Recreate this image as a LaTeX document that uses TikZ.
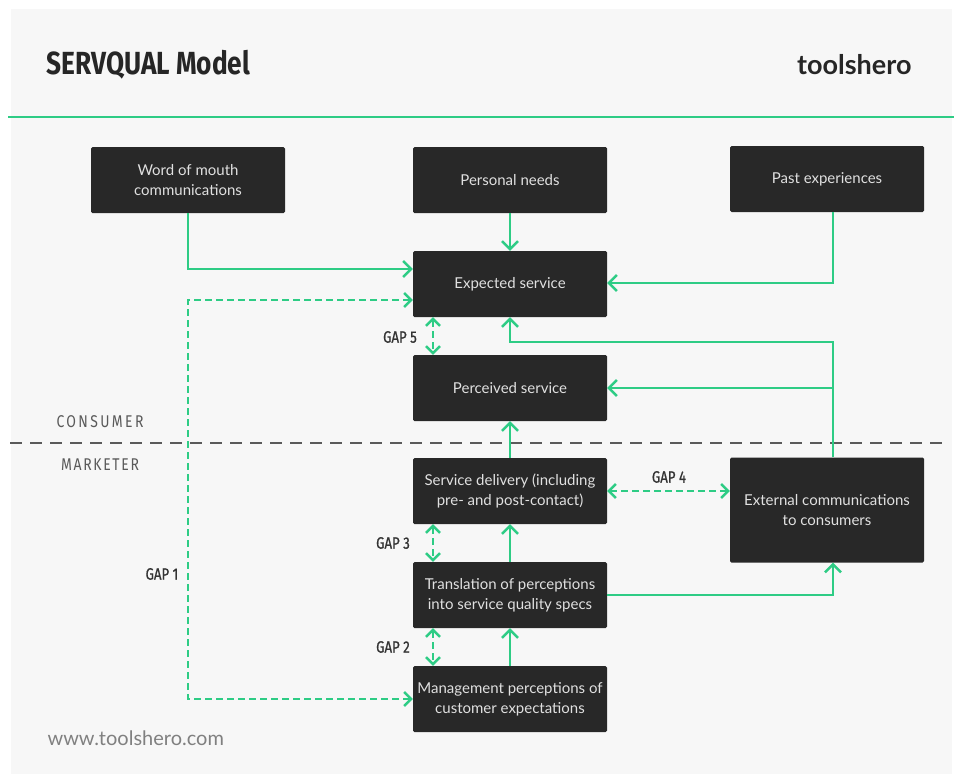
\documentclass[tikz,border=0pt]{standalone}
\usepackage{fontspec}
\setmainfont{Lato}
\newfontfamily\condfont[FakeStretch=0.82]{Fira Sans}
\newfontfamily\gapfont[FakeStretch=0.8,FakeBold=0.8]{Fira Sans}
\usetikzlibrary{calc}
\usetikzlibrary{arrows.meta}
\definecolor{boxgray}{HTML}{282828}
\definecolor{flowgreen}{HTML}{2ECC85}
\definecolor{panelgray}{HTML}{F7F7F7}
\definecolor{labelgray}{HTML}{5A5A5A}

\begin{document}
\begin{tikzpicture}[x=1pt,y=-1pt,
  box/.style={fill=boxgray, text=white!88!black, rounded corners=1.5pt, minimum width=194pt, minimum height=66pt, align=center, inner sep=0pt, font=\fontsize{15}{20}\selectfont},
  flow/.style={flowgreen, line width=2.4pt, -{Straight Barb[length=8pt,width=16pt]}},
  gap/.style={flowgreen, line width=2.4pt, dash pattern=on 7pt off 4pt, {Straight Barb[length=7pt,width=14pt]}-{Straight Barb[length=7pt,width=14pt]}},
  gaplabel/.style={text=black!80, font=\gapfont\fontsize{16.5}{16.5}\selectfont},
  sidelabel/.style={text=labelgray}]

\useasboundingbox (0,0) rectangle (954,774);
\fill[white] (0,0) rectangle (954,774);
\fill[panelgray] (11,9) rectangle (952,774);

\node[anchor=west, font=\condfont\bfseries\fontsize{32}{32}\selectfont, text=black!85] (title) at (43,65) {SERVQUAL Model};
\node[anchor=east, font=\bfseries\fontsize{27}{27}\selectfont, text=black!85] (brand) at (915,65) {toolshero};
\draw[flowgreen, line width=2.5pt] (8,117) -- (954,117);

\node[box] (mouth) at (188,180) {Word of mouth\\communications};
\node[box] (needs) at (510,180) {Personal needs};
\node[box] (past) at (827,179) {Past experiences};
\node[box] (expected) at (510,284) {Expected service};
\node[box] (perceived) at (510,388) {Perceived service};
\node[box] (delivery) at (510,491) {Service delivery (including\\pre- and post-contact)};
\node[box] (translation) at (510,595) {Translation of perceptions\\into service quality specs};
\node[box] (management) at (510,699) {Management perceptions of\\customer expectations};
\node[box, minimum height=105pt] (external) at (827,510) {External communications\\to consumers};

\coordinate (mouthdown) at (188,269);
\coordinate (pastdown) at (833,283);
\coordinate (extup) at (833,342);
\coordinate (extmid) at (833,388);
\coordinate (gapleft) at (188,300);

\draw[labelgray, line width=2pt, dash pattern=on 12pt off 8pt] (10,443) -- (944,443);
\node[sidelabel, font=\condfont\fontsize{17}{17}\selectfont\addfontfeature{LetterSpace=14}] (consumer) at (100,422) {CONSUMER};
\node[sidelabel, font=\condfont\fontsize{17}{17}\selectfont\addfontfeature{LetterSpace=10}] (marketer) at (100,465) {MARKETER};

\draw[flow] (mouth.south) -- (mouthdown) -- (mouthdown -| expected.west);
\draw[flow] (needs) -- (expected);
\draw[flow] ([xshift=6pt]past.south) -- (pastdown) -- (pastdown -| expected.east);
\draw[flow] ([xshift=6pt]external.north) -- (extup) -| (expected.south);
\draw[flow] (extmid) -- (extmid -| perceived.east);
\draw[flow] (delivery) -- (perceived);
\draw[flow] (translation) -- (delivery);
\draw[flow] (management) -- (translation);
\draw[flow] (translation.east) -| ([xshift=6pt]external.south);

\draw[gap] (gapleft -| expected.west) -- (gapleft) |- (management.west);
\draw[gap] ([xshift=-77pt]expected.south) -- ([xshift=-77pt]perceived.north);
\draw[gap] ([xshift=-77pt]delivery.south) -- ([xshift=-77pt]translation.north);
\draw[gap] ([xshift=-77pt]translation.south) -- ([xshift=-77pt]management.north);
\draw[gap] (delivery.east) -- (delivery.east -| external.west);

\node[gaplabel] (gap1) at (162,574) {GAP 1};
\node[gaplabel] (gap2) at (393,647) {GAP 2};
\node[gaplabel] (gap3) at (393,543) {GAP 3};
\node[gaplabel] (gap4) at (669,477) {GAP 4};
\node[gaplabel] (gap5) at (400,337) {GAP 5};

\node[anchor=west, text=black!50, font=\fontsize{20}{20}\selectfont] (site) at (44,738) {www.toolshero.com};
\end{tikzpicture}
\end{document}
